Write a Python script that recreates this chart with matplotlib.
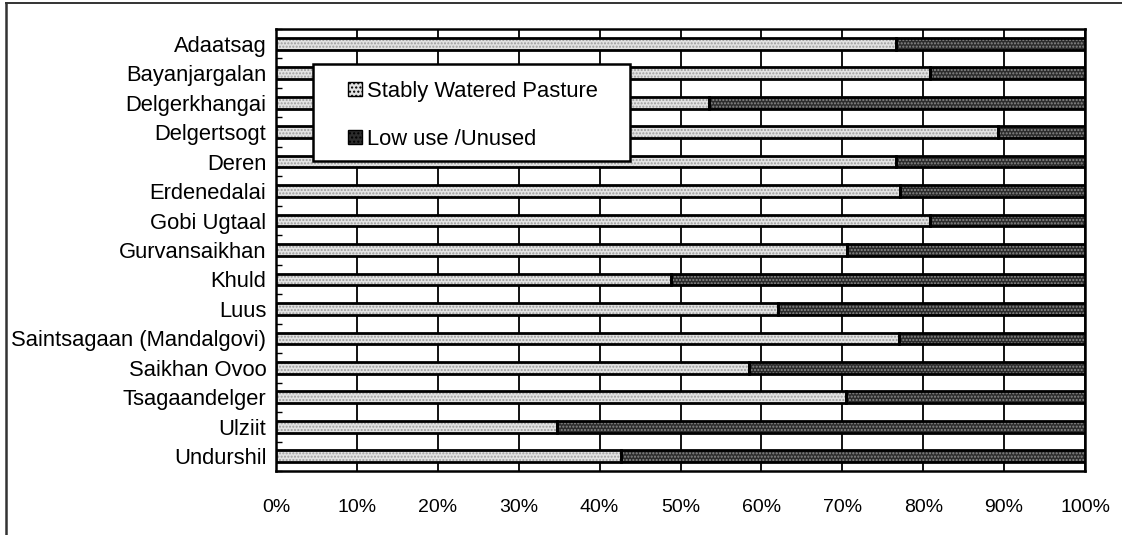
import matplotlib
matplotlib.use("Agg")
import matplotlib.pyplot as plt
from matplotlib.patches import Patch, Rectangle
from matplotlib.lines import Line2D
import numpy as np

plt.rcParams['font.family'] = ['Liberation Sans', 'DejaVu Sans']
plt.rcParams['hatch.linewidth'] = 1.0

categories = ["Adaatsag", "Bayanjargalan", "Delgerkhangai", "Delgertsogt", "Deren",
              "Erdenedalai", "Gobi Ugtaal", "Gurvansaikhan", "Khuld", "Luus",
              "Saintsagaan (Mandalgovi)", "Saikhan Ovoo", "Tsagaandelger", "Ulziit", "Undurshil"]
stably_watered = [76.6, 80.9, 53.5, 89.2, 76.6, 77.1, 80.8, 70.6, 48.8, 62.1,
                  77.0, 58.5, 70.5, 34.7, 42.6]
low_use = [100 - v for v in stably_watered]
series_names = ["Stably Watered Pasture", "Low use /Unused"]
xtick_vals = list(range(0, 101, 10))
xtick_labels = [f"{v}%" for v in xtick_vals]

light = '#e2e2e2'
light_hatch = '#9c9c9c'
dark = '#2c2c2c'
dark_hatch = '#8a8a8a'

fig = plt.figure(figsize=(11.22, 5.35), dpi=100)
ax = fig.add_axes([276/1122, 1-471/535, 809/1122, 442/535])

y = np.arange(len(categories))
h = 0.40
# textured fills
ax.barh(y, stably_watered, height=h, color=light, edgecolor=light_hatch, hatch='.....',
        linewidth=0, zorder=3)
ax.barh(y, low_use, left=stably_watered, height=h, color=dark, edgecolor=dark_hatch,
        hatch='.....', linewidth=0, zorder=3)
# black outlines
ax.barh(y, stably_watered, height=h, fill=False, edgecolor='black', linewidth=2.0, zorder=4)
ax.barh(y, low_use, left=stably_watered, height=h, fill=False, edgecolor='black',
        linewidth=2.0, zorder=4)

ax.set_xlim(0, 100)
ax.set_ylim(len(categories) - 0.5, -0.5)
ax.set_yticks(y)
ax.set_yticklabels(categories, fontsize=15.8)
ax.set_yticks(np.arange(-0.5, len(categories), 1), minor=True)
ax.tick_params(axis='y', which='major', length=0, pad=7)
ax.tick_params(axis='y', which='minor', direction='in', length=4, width=1, color='black')
ax.set_xticks(xtick_vals)
ax.set_xticklabels(xtick_labels, fontsize=14)
ax.tick_params(axis='x', length=0, pad=20)
ax.xaxis.grid(True, color='black', linewidth=1.3, zorder=1)
ax.set_axisbelow(True)
for s in ax.spines.values():
    s.set_linewidth(1.8)
    s.set_color('black')

# legend box
lx0, lx1 = (313-276)/809, (630-276)/809
ly0, ly1 = (471-161)/442, (471-64)/442
ax.add_patch(Rectangle((lx0, ly0), lx1-lx0, ly1-ly0, transform=ax.transAxes,
                       facecolor='white', edgecolor='black', linewidth=1.8, zorder=5))
handles = [Patch(facecolor=light, edgecolor='black', hatch='....', linewidth=1.0),
           Patch(facecolor=dark, edgecolor='black', hatch='....', linewidth=1.0)]
leg = ax.legend(handles, series_names, loc='upper left',
                bbox_to_anchor=((350-276)/809 - 0.01, (471-74)/442), frameon=False,
                fontsize=15.8, handlelength=0.6, handleheight=0.6, handletextpad=0.25,
                labelspacing=1.25, borderpad=0.3, borderaxespad=0)
leg.set_zorder(6)

# figure border (partial, as scanned)
fig.add_artist(Line2D([6/1122, 6/1122], [0, 1-3/535], color='#333333', linewidth=1.8))
fig.add_artist(Line2D([6/1122, 1], [1-3/535, 1-3/535], color='#333333', linewidth=1.4))

fig.savefig('out.png', dpi=100)
